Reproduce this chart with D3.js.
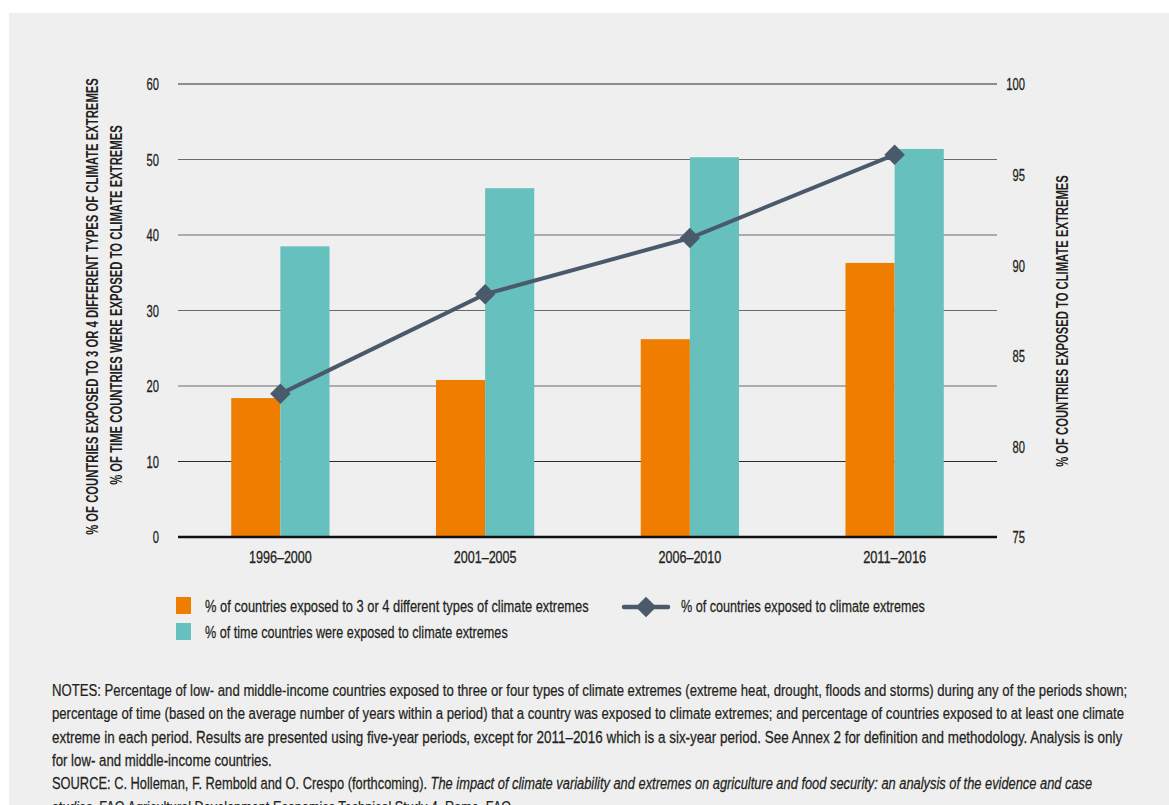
<!DOCTYPE html>
<html><head><meta charset="utf-8">
<script src="https://cdn.jsdelivr.net/npm/d3@7"></script>
<style>
html,body{margin:0;padding:0;background:#fff;}
svg{display:block;}
text{font-family:"Liberation Sans",Arial,sans-serif;fill:#231f20;}
</style></head>
<body>
<script>
const categories = ["1996–2000","2001–2005","2006–2010","2011–2016"];
const pctThreeFour = [18.4, 20.8, 26.2, 36.3];
const pctTime = [38.5, 46.2, 50.3, 51.4];
const pctExposed = [82.9, 88.4, 91.5, 96.1];
const leftTicks = [0,10,20,30,40,50,60];
const rightTicks = [75,80,85,90,95,100];
const seriesNames = ["% of countries exposed to 3 or 4 different types of climate extremes",
  "% of time countries were exposed to climate extremes",
  "% of countries exposed to climate extremes"];
const leftTitle = ["% OF COUNTRIES EXPOSED TO 3 OR 4 DIFFERENT TYPES OF CLIMATE EXTREMES",
  "% OF TIME COUNTRIES WERE EXPOSED TO CLIMATE EXTREMES"];
const rightTitle = "% OF COUNTRIES EXPOSED TO CLIMATE EXTREMES";
const notes = [
 "NOTES: Percentage of low- and middle-income countries exposed to three or four types of climate extremes (extreme heat, drought, floods and storms) during any of the periods shown;",
 "percentage of time (based on the average number of years within a period) that a country was exposed to climate extremes; and percentage of countries exposed to at least one climate",
 "extreme in each period. Results are presented using five-year periods, except for 2011–2016 which is a six-year period. See Annex 2 for definition and methodology. Analysis is only",
 "for low- and middle-income countries."
];
const sourceParts = ["SOURCE: C. Holleman, F. Rembold and O. Crespo (forthcoming). ",
 "The impact of climate variability and extremes on agriculture and food security: an analysis of the evidence and case",
 "studies", ". FAO Agricultural Development Economics Technical Study 4. Rome, FAO."];

(function(){
const W = 1169, H = 805;
const svg = d3.select("body").append("svg").attr("width", W).attr("height", H);
svg.append("rect").attr("x", 9).attr("y", 13).attr("width", W - 9).attr("height", H - 13).attr("fill", "#efefef");

const pLeft = 178, pRight = 997, pTop = 84, pBottom = 537;
const orange = "#ef7d00", teal = "#66c0bd", lineC = "#4b5a6b";

function condense(node, opts) {
  const t = d3.select(node);
  const x = +t.attr("x") || 0, y = +t.attr("y") || 0;
  let s = opts.scale;
  if (opts.width) s = opts.width / node.getComputedTextLength();
  t.attr("x", 0).attr("y", 0)
   .attr("transform", `translate(${x},${y}) scale(${s},1)`);
}

const yL = d3.scaleLinear().domain([0, 60]).range([pBottom, pTop]);
const yR = d3.scaleLinear().domain([75, 100]).range([pBottom, pTop]);
const x0 = d3.scaleBand().domain(categories).range([pLeft, pRight]).paddingInner(0.52).paddingOuter(0.26);
const x1 = d3.scaleBand().domain([0, 1]).range([0, x0.bandwidth()]);

svg.append("g").selectAll("line").data(leftTicks.filter(d => d > 0)).join("line")
  .attr("x1", pLeft).attr("x2", pRight)
  .attr("y1", d => yL(d)).attr("y2", d => yL(d))
  .attr("stroke", d => (d === 10 || d === 60) ? "#2a2a2a" : "#6a6a6a").attr("stroke-width", 1.2);

const axL = svg.append("g").attr("transform", `translate(${pLeft},0)`)
  .call(d3.axisLeft(yL).tickValues(leftTicks).tickSize(0).tickPadding(19));
axL.select(".domain").remove();
axL.selectAll("text").attr("font-size", 16.5).attr("fill", "#231f20").style("font-family", null)
  .attr("stroke", "#231f20").attr("stroke-width", 0.3)
  .attr("dy", "0.36em").each(function(){ condense(this, {scale: 0.68}); });

const axR = svg.append("g").attr("transform", `translate(${pRight},0)`)
  .call(d3.axisRight(yR).tickValues(rightTicks).tickSize(0).tickPadding(28));
axR.select(".domain").remove();
axR.selectAll("text").attr("font-size", 16.5).attr("fill", "#231f20").style("font-family", null)
  .attr("stroke", "#231f20").attr("stroke-width", 0.3)
  .attr("text-anchor", "end").attr("dy", "0.36em").each(function(){ condense(this, {scale: 0.68}); });

const groups = svg.append("g").selectAll("g").data(categories).join("g")
  .attr("transform", d => `translate(${x0(d)},0)`);
groups.append("rect").attr("x", x1(0)).attr("width", x1.bandwidth())
  .attr("y", (d, i) => yL(pctThreeFour[i])).attr("height", (d, i) => pBottom - yL(pctThreeFour[i]))
  .attr("fill", orange);
groups.append("rect").attr("x", x1(1)).attr("width", x1.bandwidth())
  .attr("y", (d, i) => yL(pctTime[i])).attr("height", (d, i) => pBottom - yL(pctTime[i]))
  .attr("fill", teal);

svg.append("line").attr("x1", pLeft).attr("x2", pRight).attr("y1", yL(0)).attr("y2", yL(0))
  .attr("stroke", "#111").attr("stroke-width", 2.5);

const axX = svg.append("g").attr("transform", `translate(0,${pBottom})`)
  .call(d3.axisBottom(x0).tickSize(0).tickPadding(26));
axX.select(".domain").remove();
axX.selectAll("text").attr("font-size", 16).attr("fill", "#231f20").style("font-family", null)
  .attr("stroke", "#231f20").attr("stroke-width", 0.3)
  .attr("dy", null).each(function(){ condense(this, {width: 63}); });

const cx = c => x0(c) + x0.bandwidth() / 2;
const line = d3.line().x((d, i) => cx(categories[i])).y(d => yR(d));
svg.append("path").datum(pctExposed).attr("d", line).attr("fill", "none")
  .attr("stroke", lineC).attr("stroke-width", 4);
const diamond = d3.symbol().type(d3.symbolSquare).size(210);
svg.append("g").selectAll("path").data(pctExposed).join("path")
  .attr("d", diamond)
  .attr("transform", (d, i) => `translate(${cx(categories[i])},${yR(d)}) rotate(45)`)
  .attr("fill", lineC);

function vTitle(txt, bx, cy, w) {
  const t = svg.append("text").attr("text-anchor", "middle").attr("font-size", 17)
    .attr("font-weight", "bold").text(txt);
  const s = w / t.node().getComputedTextLength();
  t.attr("transform", `translate(${bx},${cy}) rotate(-90) scale(${s},1)`);
}
vTitle(leftTitle[0], 98, 306.5, 457);
vTitle(leftTitle[1], 122, 305, 360);
vTitle(rightTitle, 1068, 321, 292);

const lg = svg.append("g");
lg.append("rect").attr("x", 176).attr("y", 597).attr("width", 15).attr("height", 17).attr("fill", orange);
lg.append("rect").attr("x", 176).attr("y", 623).attr("width", 15).attr("height", 17).attr("fill", teal);
lg.append("line").attr("x1", 624).attr("x2", 668).attr("y1", 607).attr("y2", 607)
  .attr("stroke", lineC).attr("stroke-width", 4.5).attr("stroke-linecap", "round");
lg.append("path").attr("d", diamond).attr("transform", "translate(646,607) rotate(45)").attr("fill", lineC);
[[205, 612, seriesNames[0], 384], [205, 638, seriesNames[1], 303], [681, 612, seriesNames[2], 244]]
  .forEach(([x, y, t, w]) => {
    const el = lg.append("text").attr("x", x).attr("y", y).attr("font-size", 17)
      .attr("stroke", "#231f20").attr("stroke-width", 0.25).text(t);
    condense(el.node(), {width: w});
  });

const nt = svg.append("g").attr("stroke", "#231f20").attr("stroke-width", 0.25);
const widths = [1076, 1073, 1071, 220];
notes.forEach((t, i) => {
  const el = nt.append("text").attr("x", 52).attr("y", 696 + i * 23.3).attr("font-size", 17).text(t);
  condense(el.node(), {width: widths[i]});
});
const src = nt.append("text").attr("x", 52).attr("y", 696 + 4 * 23.3).attr("font-size", 17);
src.append("tspan").text(sourceParts[0]);
src.append("tspan").attr("font-style", "italic").text(sourceParts[1]);
condense(src.node(), {width: 1041});
const src2 = nt.append("text").attr("x", 52).attr("y", 696 + 5 * 23.3).attr("font-size", 17);
src2.append("tspan").attr("font-style", "italic").text(sourceParts[2]);
src2.append("tspan").text(sourceParts[3]);
condense(src2.node(), {width: 463});
})();
</script>
</body></html>
